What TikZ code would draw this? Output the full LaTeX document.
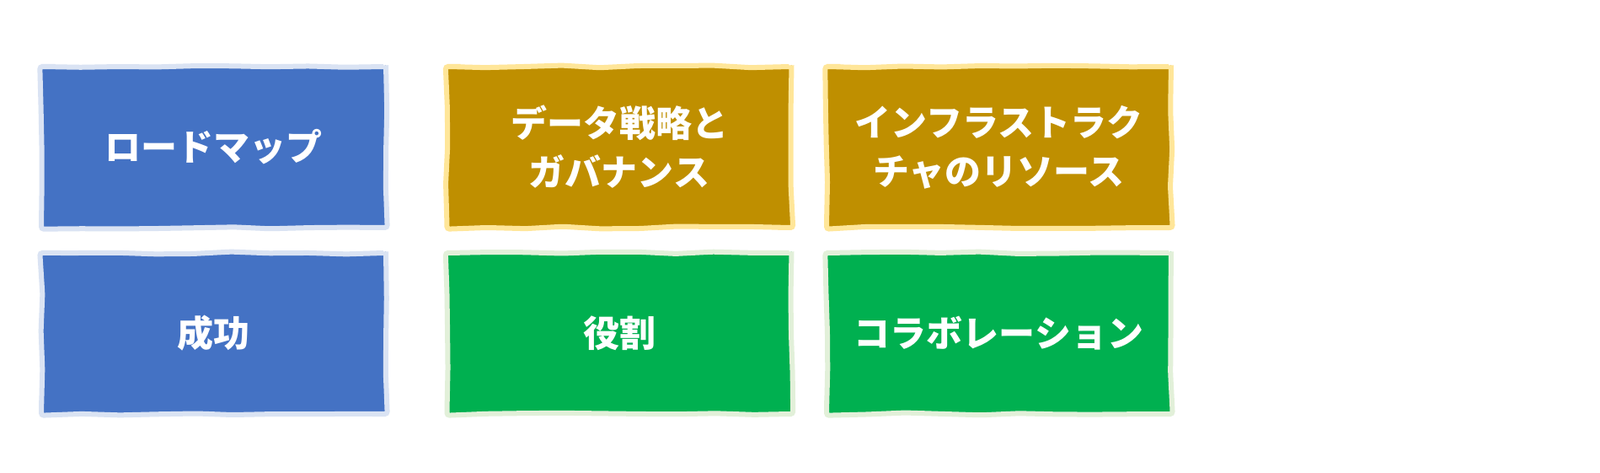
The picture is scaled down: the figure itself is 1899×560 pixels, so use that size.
\documentclass[tikz,border=0pt]{standalone}
\usepackage{fontspec}
\newfontfamily\cjk{Noto Sans CJK JP}
\usetikzlibrary{decorations.pathmorphing}
\definecolor{cblue}{HTML}{4472C4}
\definecolor{cgold}{HTML}{BF8F00}
\definecolor{cgreen}{HTML}{00B050}
\definecolor{lblue}{HTML}{DAE3F3}
\definecolor{lgold}{HTML}{FFE699}
\definecolor{lgreen}{HTML}{E2F0D9}
\tikzset{
  card/.style={draw, line width=6pt, minimum width=409pt, minimum height=191pt,
    inner sep=0pt, align=center, text=white,
    font=\cjk\bfseries\fontsize{43pt}{58pt}\selectfont,
    decorate, decoration={random steps, segment length=45pt, amplitude=1.5pt},
    rounded corners=3pt},
  bluecard/.style={card, fill=cblue, draw=lblue},
  goldcard/.style={card, fill=cgold, draw=lgold},
  greencard/.style={card, fill=cgreen, draw=lgreen},
}
\begin{document}
\begin{tikzpicture}[x=1pt,y=1pt]
\useasboundingbox[fill=white] (0,0) rectangle (1899,560);
\node[bluecard] (roadmap) at (253.5,385.5) {ロードマップ};
\node[goldcard] (data) at (735,385.5) {データ戦略と\\ガバナンス};
\node[goldcard] (infra) at (1185.5,385.5) {インフラストラク\\チャのリソース};
\node[bluecard] (success) at (253.5,164.5) {成功};
\node[greencard] (roles) at (735,164.5) {役割};
\node[greencard] (collab) at (1185.5,164.5) {コラボレーション};
\end{tikzpicture}
\end{document}
